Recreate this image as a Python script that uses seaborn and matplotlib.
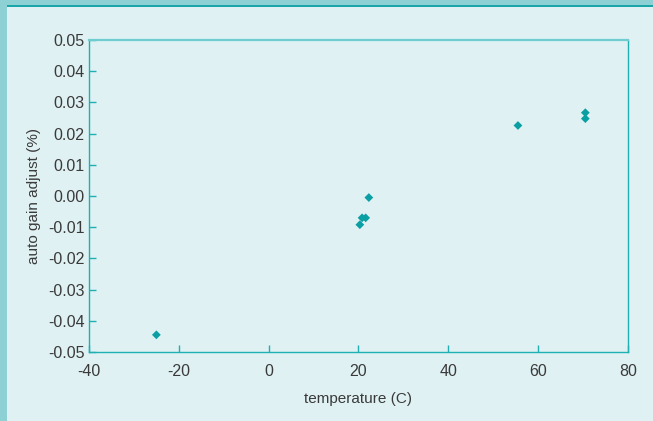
import matplotlib
matplotlib.use("Agg")
import matplotlib.pyplot as plt
from matplotlib.patches import Rectangle
import pandas as pd
import seaborn as sns

# values
temperature = [-25.0, 20.3, 20.8, 21.6, 22.3, 55.5, 70.5, 70.5]
gain_adjust = [-0.0445, -0.0092, -0.0070, -0.0070, -0.0005, 0.0226, 0.0267, 0.0248]
x_ticks = [-40, -20, 0, 20, 40, 60, 80]
y_ticks = [-0.05, -0.04, -0.03, -0.02, -0.01, 0.00, 0.01, 0.02, 0.03, 0.04, 0.05]

bg = "#dff1f3"
teal = "#1fb0b4"
marker_col = "#0a9fa3"
text_col = "#3a3a3a"

sns.set_style("white")
plt.rcParams["font.family"] = ["Liberation Sans", "DejaVu Sans"]
plt.rcParams["axes.unicode_minus"] = False

df = pd.DataFrame({"temperature": temperature, "gain": gain_adjust})

fig = plt.figure(figsize=(6.53, 4.21), dpi=100, facecolor=bg)
ax = fig.add_axes([89 / 653, 69 / 421, 539 / 653, 312 / 421])
ax.set_facecolor(bg)

sns.scatterplot(data=df, x="temperature", y="gain", marker="D", s=20,
                color=marker_col, edgecolor="none", ax=ax)

ax.set_xlim(-40, 80)
ax.set_ylim(-0.05, 0.05)
ax.set_xticks(x_ticks)
ax.set_yticks(y_ticks)
ax.set_xticklabels([str(t) for t in x_ticks])
ax.set_yticklabels([f"{t:.2f}" for t in y_ticks])

for side in ["left", "right", "top", "bottom"]:
    ax.spines[side].set_color(teal)
    ax.spines[side].set_linewidth(1.0)
ax.spines["top"].set_color("#6fcdd0")
ax.spines["top"].set_linewidth(1.6)

ax.tick_params(axis="x", direction="in", length=5, width=1, color=teal,
               labelcolor=text_col, labelsize=11.5, pad=9, bottom=True, top=False)
ax.tick_params(axis="y", direction="in", length=5, width=1, color=teal,
               labelcolor=text_col, labelsize=11.5, pad=3, left=True, right=False)

ax.set_xlabel("temperature (C)", fontsize=11, color=text_col, labelpad=9)
ax.set_ylabel("auto gain adjust (%)", fontsize=11, color=text_col, labelpad=5)

# frame strips at top and left
fig.patches.append(Rectangle((0, 0), 7 / 653, 1, transform=fig.transFigure,
                             facecolor="#8dd1d5", edgecolor="none", zorder=0))
fig.patches.append(Rectangle((0, 1 - 5 / 421), 1, 5 / 421, transform=fig.transFigure,
                             facecolor="#8dd1d5", edgecolor="none", zorder=0))
fig.patches.append(Rectangle((7 / 653, 1 - 6.5 / 421), 1, 1.5 / 421, transform=fig.transFigure,
                             facecolor="#1aa5a9", edgecolor="none", zorder=0))

fig.savefig("out.png", dpi=100, facecolor=bg)
